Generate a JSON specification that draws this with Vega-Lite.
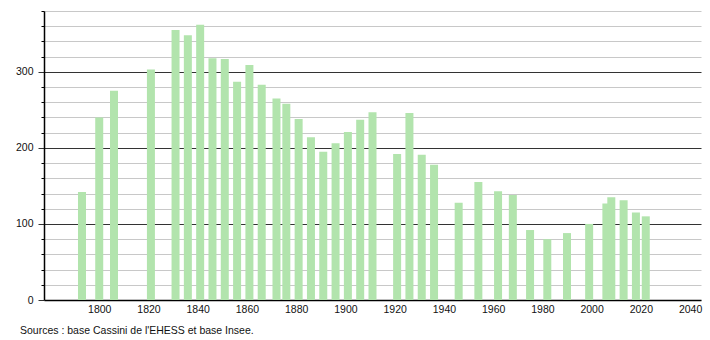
{
  "$schema": "https://vega.github.io/schema/vega-lite/v6.json",
  "width": 657,
  "height": 289,
  "autosize": {"type": "none"},
  "padding": {"left": 44, "top": 11, "right": 9, "bottom": 40},
  "background": "white",
  "config": {
    "view": {"stroke": null},
    "font": "Liberation Sans"
  },
  "title": {
    "text": "Sources : base Cassini de l'EHESS et base Insee.",
    "orient": "bottom",
    "anchor": "start",
    "frame": "group",
    "dx": -24,
    "offset": 11,
    "fontSize": 10.5,
    "fontWeight": "normal",
    "color": "#111",
    "font": "Liberation Sans"
  },
  "data": {
    "values": [
      {"year": 1793, "pop": 142},
      {"year": 1800, "pop": 240},
      {"year": 1806, "pop": 275},
      {"year": 1821, "pop": 303},
      {"year": 1831, "pop": 355},
      {"year": 1836, "pop": 348},
      {"year": 1841, "pop": 362},
      {"year": 1846, "pop": 318},
      {"year": 1851, "pop": 317},
      {"year": 1856, "pop": 287},
      {"year": 1861, "pop": 309},
      {"year": 1866, "pop": 283},
      {"year": 1872, "pop": 265},
      {"year": 1876, "pop": 258},
      {"year": 1881, "pop": 238},
      {"year": 1886, "pop": 214},
      {"year": 1891, "pop": 195},
      {"year": 1896, "pop": 206},
      {"year": 1901, "pop": 221},
      {"year": 1906, "pop": 237},
      {"year": 1911, "pop": 247},
      {"year": 1921, "pop": 192},
      {"year": 1926, "pop": 246},
      {"year": 1931, "pop": 191},
      {"year": 1936, "pop": 178},
      {"year": 1946, "pop": 128},
      {"year": 1954, "pop": 155},
      {"year": 1962, "pop": 143},
      {"year": 1968, "pop": 138},
      {"year": 1975, "pop": 92},
      {"year": 1982, "pop": 80},
      {"year": 1990, "pop": 88},
      {"year": 1999, "pop": 100},
      {"year": 2006, "pop": 127},
      {"year": 2008, "pop": 135},
      {"year": 2013, "pop": 131},
      {"year": 2018, "pop": 115},
      {"year": 2022, "pop": 110}
    ]
  },
  "mark": {"type": "bar", "size": 8, "color": "#b2e4ad"},
  "encoding": {
    "x": {
      "field": "year",
      "type": "quantitative",
      "scale": {"domain": [1779.6, 2042.4], "nice": false, "zero": false},
      "axis": {
        "title": null,
        "values": [1800, 1820, 1840, 1860, 1880, 1900, 1920, 1940, 1960, 1980, 2000, 2020, 2040],
        "format": "d",
        "grid": false,
        "ticks": false,
        "domainColor": "#000",
        "domainWidth": 1.5,
        "labelFontSize": 10.5,
        "labelColor": "#111",
        "labelPadding": 4,
        "labelFlush": false
      }
    },
    "y": {
      "field": "pop",
      "type": "quantitative",
      "scale": {"domain": [0, 380], "nice": false},
      "axis": {
        "title": null,
        "values": [0, 20, 40, 60, 80, 100, 120, 140, 160, 180, 200, 220, 240, 260, 280, 300, 320, 340, 360, 380],
        "labelExpr": "datum.value % 100 === 0 ? datum.label : ''",
        "grid": true,
        "gridColor": {"condition": {"test": "datum.value % 100 === 0 && datum.value > 0", "value": "#333333"}, "value": "#c8c8c8"},
        "gridWidth": 1,
        "tickSize": {"condition": {"test": "datum.value % 100 === 0", "value": 6}, "value": 3},
        "tickColor": {"condition": {"test": "datum.value % 100 === 0", "value": "#333333"}, "value": "#000"},
        "domainColor": "#000",
        "domainWidth": 1.5,
        "labelFontSize": 10.5,
        "labelColor": "#111",
        "labelPadding": 5
      }
    }
  }
}
